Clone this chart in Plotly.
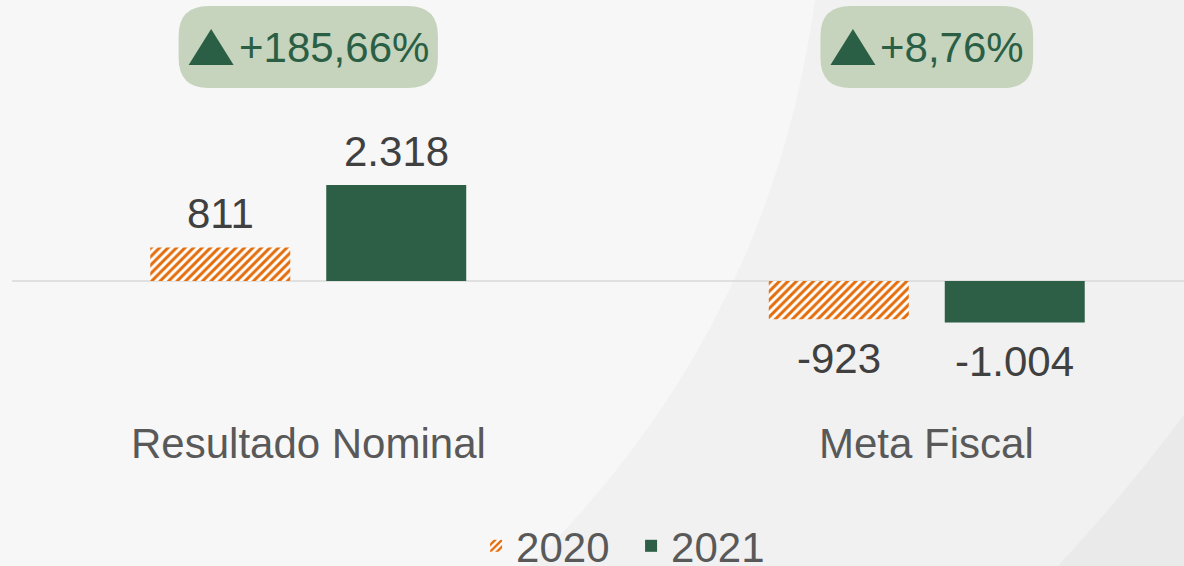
import plotly.graph_objects as go

# ---- data ----
categories = ["Resultado Nominal", "Meta Fiscal"]
series_names = ["2020", "2021"]
values_2020 = [811, -923]
values_2021 = [2318, -1004]
badge_labels = ["+185,66%", "+8,76%"]

W, H = 1184, 566
FONT = "Liberation Sans, Arial, sans-serif"
GREEN = "#2D5E46"
ORANGE = "#E46C0A"
BADGE_FILL = "#C6D4BD"
BADGE_TEXT = "#2B5F45"

BARGAP = 0.431
BARGROUPGAP = 0.2045
offset = (1 - BARGAP) / 4  # centre offset of each bar in a group

# Arial-metric advance widths (em) for badge text width estimation
CHAR_EM = {"+": 0.584, ",": 0.278, "%": 0.889}
BADGE_FONT = 42


def fmt(v):
    return f"{v:,}".replace(",", ".")


def text_w(s, size):
    return sum(CHAR_EM.get(ch, 0.556) for ch in s) * size


fig = go.Figure()
fig.add_trace(go.Bar(
    x=categories, y=values_2020, name=series_names[0],
    marker=dict(color="white", line=dict(width=0),
                pattern=dict(shape="/", fgcolor=ORANGE, bgcolor="white",
                             size=6, solidity=0.5, fillmode="replace")),
))
fig.add_trace(go.Bar(
    x=categories, y=values_2021, name=series_names[1],
    marker=dict(color=GREEN, line=dict(width=0)),
))

annotations = []
# value labels
for k, vals in enumerate([values_2020, values_2021]):
    dx = -offset if k == 0 else offset
    for i, v in enumerate(vals):
        annotations.append(dict(
            x=i + dx, y=v, xref="x", yref="y", text=fmt(v), showarrow=False,
            yanchor="middle", yshift=34 if v >= 0 else -39,
            font=dict(family=FONT, size=42, color="#404040"),
        ))
# category labels
for i, c in enumerate(categories):
    annotations.append(dict(
        x=i, y=1 - 443 / H, xref="x", yref="paper", text=c, showarrow=False,
        yanchor="middle", font=dict(family=FONT, size=42, color="#595959"),
    ))

shapes = []


def p(x, y):
    return f"{x / W:.4f},{1 - y / H:.4f}"


# background curved panels
shapes.append(dict(
    type="path", xref="paper", yref="paper", layer="below", line=dict(width=0),
    fillcolor="#F1F1F1",
    path=f"M{p(815, 0)} Q{p(770, 330)} {p(530, 566)} L{p(1184, 566)} L{p(1184, 0)} Z",
))
shapes.append(dict(
    type="path", xref="paper", yref="paper", layer="below", line=dict(width=0),
    fillcolor="#EAEAEA",
    path=f"M{p(1184, 415)} Q{p(1120, 500)} {p(1058, 566)} L{p(1184, 566)} Z",
))
# baseline
shapes.append(dict(
    type="line", xref="paper", yref="y", x0=12 / W, x1=1, y0=0, y1=0,
    line=dict(color="#D9D9D9", width=1.5), layer="below",
))

# badges (rounded box + triangle + text)
PAD_L, TRI_W, TRI_H, GAP, PAD_R = 10, 45, 36, 4, 10
for i, lab in enumerate(badge_labels):
    tw = text_w(lab, BADGE_FONT)
    w = PAD_L + TRI_W + GAP + tw + PAD_R
    hw = w / 2
    top, bot, r = -6, -88, 30
    path = (f"M{-hw + r},{top} L{hw - r},{top} Q{hw},{top} {hw},{top - r} "
            f"L{hw},{bot + r} Q{hw},{bot} {hw - r},{bot} "
            f"L{-hw + r},{bot} Q{-hw},{bot} {-hw},{bot + r} "
            f"L{-hw},{top - r} Q{-hw},{top} {-hw + r},{top} Z")
    shapes.append(dict(
        type="path", xref="x", yref="paper", xsizemode="pixel", ysizemode="pixel",
        xanchor=i, yanchor=1, path=path, fillcolor=BADGE_FILL,
        line=dict(width=0), layer="above",
    ))
    tx0 = -hw + PAD_L
    ty_bot, ty_top = -65, -65 + TRI_H
    tri = f"M{tx0},{ty_bot} L{tx0 + TRI_W},{ty_bot} L{tx0 + TRI_W / 2},{ty_top} Z"
    shapes.append(dict(
        type="path", xref="x", yref="paper", xsizemode="pixel", ysizemode="pixel",
        xanchor=i, yanchor=1, path=tri, fillcolor=BADGE_TEXT,
        line=dict(width=0), layer="above",
    ))
    annotations.append(dict(
        x=i, y=1, xref="x", yref="paper", yshift=-47, yanchor="middle",
        xanchor="left", xshift=tx0 + TRI_W + GAP - 1,
        text=lab, showarrow=False,
        font=dict(family=FONT, size=BADGE_FONT, color=BADGE_TEXT),
    ))

fig.update_layout(
    width=W, height=H,
    margin=dict(l=0, r=0, t=0, b=0, autoexpand=False),
    paper_bgcolor="#F7F7F7", plot_bgcolor="rgba(0,0,0,0)",
    barmode="group", bargap=BARGAP, bargroupgap=BARGROUPGAP,
    xaxis=dict(type="category", range=[-0.4984, 1.4159], visible=False,
               fixedrange=True),
    yaxis=dict(range=[-6882, 6786], visible=False, fixedrange=True),
    showlegend=True,
    legend=dict(orientation="h", x=0.533, xanchor="center", y=20 / H,
                yanchor="middle", bgcolor="rgba(0,0,0,0)",
                font=dict(family=FONT, size=42, color="#595959"),
                traceorder="normal", entrywidth=110, entrywidthmode="pixels"),
    annotations=annotations, shapes=shapes,
    font=dict(family=FONT),
)

fig.write_html(
    "out.html",
    config={"displayModeBar": False},
    post_script="document.body.style.margin='0';document.body.style.overflow='hidden';",
)
